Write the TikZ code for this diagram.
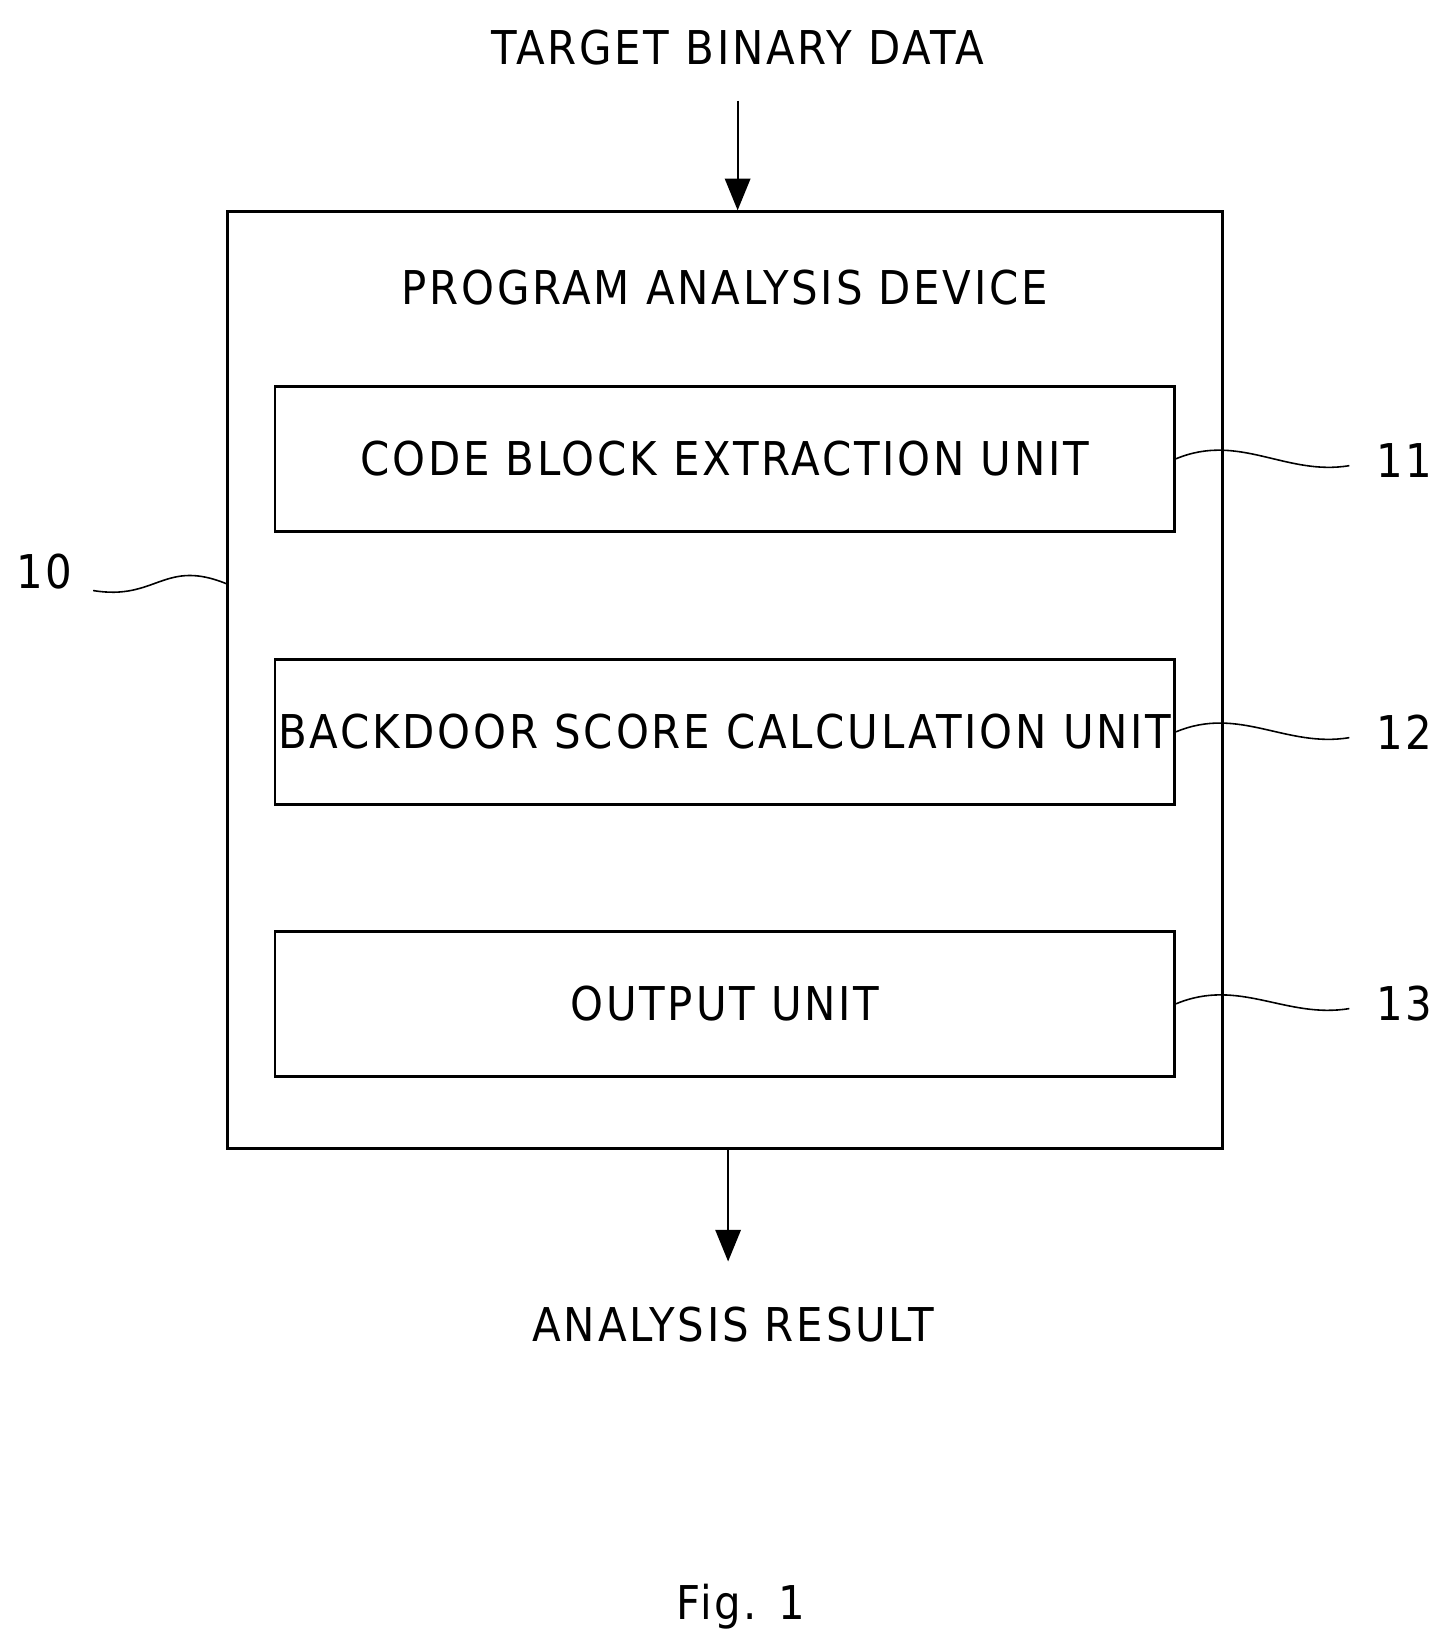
\documentclass[tikz,border=0pt]{standalone}
\usepackage{fontspec}
\setmainfont{DejaVu Sans Condensed}[LetterSpace=6]
\usetikzlibrary{arrows.meta}
\begin{document}
\begin{tikzpicture}[x=1pt,y=-1pt,
  lbl/.style={font=\fontsize{44}{52}\selectfont,inner sep=0pt},
  box/.style={draw,line width=2.5pt},
  arr/.style={line width=2pt,-{Triangle[length=30pt,width=24pt]}},
  lead/.style={line width=1.5pt}]
\useasboundingbox (0,0) rectangle (1366,1561);
\node[lbl] (t) at (697,45) {TARGET BINARY DATA};
\node[box,minimum width=940pt,minimum height=885pt,inner sep=0pt] (d) at (685,642.5) {};
\node[lbl] at (685,272) {PROGRAM ANALYSIS DEVICE};
\node[box,lbl,minimum width=850pt,minimum height=137pt] (b1) at (685,433.5) {CODE BLOCK EXTRACTION UNIT};
\node[box,lbl,minimum width=850pt,minimum height=137pt] (b2) at (685,691.5) {BACKDOOR SCORE CALCULATION UNIT};
\node[box,lbl,minimum width=850pt,minimum height=137pt] (b3) at (685,948.5) {OUTPUT UNIT};
\coordinate (i) at (697,95);
\draw[arr] (i) -- (d.north -| i);
\node[lbl] (r) at (693,1252) {ANALYSIS RESULT};
\coordinate (o) at (688,1085);
\coordinate (oe) at (688,1192);
\draw[arr] (o) -- (oe);
\node[lbl] at (700,1518) {Fig. 1};
\node[lbl] (n11) at (1327,435) {11};
\node[lbl] (n12) at (1327,692) {12};
\node[lbl] (n13) at (1327,948) {13};
\node[lbl] (n10) at (42,540) {10};
\draw[lead] (b1.east) .. controls +(60,-25) and +(-60,10) .. (1275,440);
\draw[lead] (b2.east) .. controls +(60,-25) and +(-60,10) .. (1275,697);
\draw[lead] (b3.east) .. controls +(60,-25) and +(-60,10) .. (1275,953);
\draw[lead] (88,558) .. controls +(60,10) and +(-60,-25) .. (215,552);
\end{tikzpicture}
\end{document}
